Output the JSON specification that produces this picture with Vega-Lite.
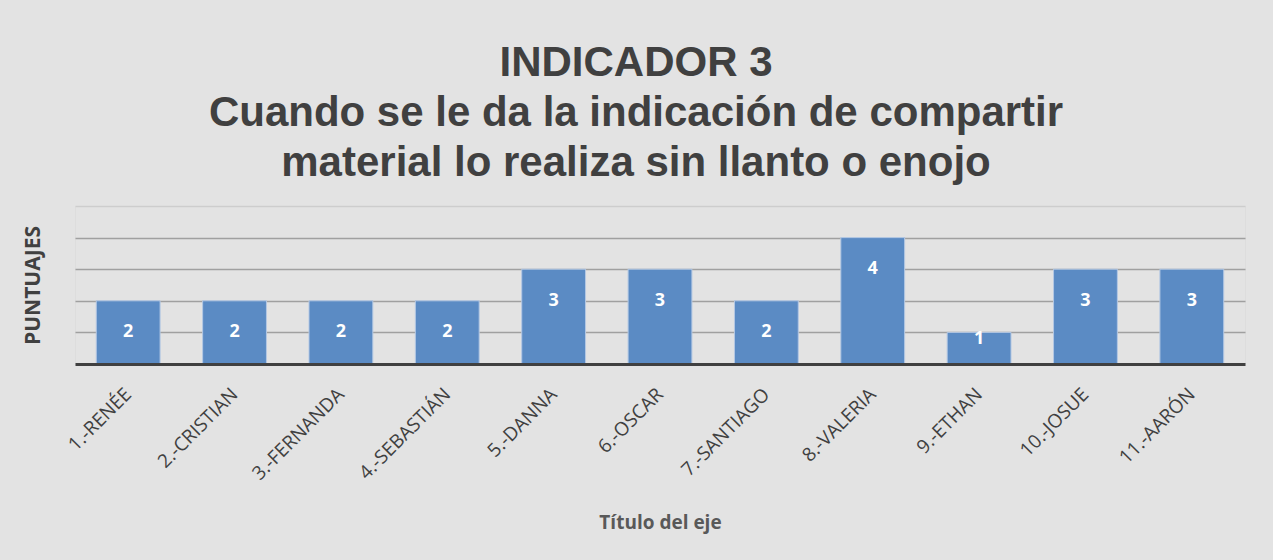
{
  "$schema": "https://vega.github.io/schema/vega-lite/v6.json",
  "autosize": "none",
  "width": 1170,
  "height": 158,
  "padding": {"left": 75, "top": 206, "right": 28, "bottom": 196},
  "background": "#e3e3e3",
  "title": {
    "text": ["INDICADOR 3", "Cuando se le da la indicación de compartir", "material lo realiza sin llanto o enojo"],
    "font": "Liberation Sans",
    "fontSize": 42,
    "fontWeight": "bold",
    "color": "#404040",
    "lineHeight": 50,
    "anchor": "middle",
    "dx": -24,
    "offset": 21
  },
  "data": {
    "values": [
      {"nombre": "1.-RENÉE", "v": 2},
      {"nombre": "2.-CRISTIAN", "v": 2},
      {"nombre": "3.-FERNANDA", "v": 2},
      {"nombre": "4.-SEBASTIÁN", "v": 2},
      {"nombre": "5.-DANNA", "v": 3},
      {"nombre": "6.-OSCAR", "v": 3},
      {"nombre": "7.-SANTIAGO", "v": 2},
      {"nombre": "8.-VALERIA", "v": 4},
      {"nombre": "9.-ETHAN", "v": 1},
      {"nombre": "10.-JOSUE", "v": 3},
      {"nombre": "11.-AARÓN", "v": 3}
    ]
  },
  "encoding": {
    "x": {
      "field": "nombre",
      "type": "nominal",
      "sort": null,
      "scale": {"paddingInner": 0.4, "paddingOuter": 0.2},
      "axis": {
        "title": "Título del eje",
        "titleFont": "Open Sans",
        "titleFontSize": 19,
        "titleFontWeight": "bold",
        "titleColor": "#595959",
        "titlePadding": 30,
        "labelAngle": -45,
        "labelAlign": "right",
        "labelBaseline": "middle",
        "labelFont": "Open Sans",
        "labelFontSize": 19,
        "labelColor": "#404040",
        "labelPadding": 27,
        "labelLimit": 300,
        "ticks": false,
        "domainColor": "#404040",
        "domainWidth": 3,
        "zindex": 1
      }
    }
  },
  "layer": [
    {
      "mark": {"type": "bar", "color": "#5b8bc4", "stroke": "#b4c8e4", "strokeWidth": 1},
      "encoding": {
        "y": {
          "field": "v",
          "type": "quantitative",
          "scale": {"domain": [0, 5]},
          "axis": {
            "title": "PUNTUAJES",
            "titleFont": "Open Sans",
            "titleFontSize": 21,
            "titleFontWeight": "bold",
            "titleColor": "#404040",
            "titlePadding": 32,
            "labels": false,
            "labelOverlap": false,
            "ticks": false,
            "domain": false,
            "values": [1, 2, 3, 4, 5],
            "grid": true,
            "gridColor": {"condition": {"test": "datum.value == 5", "value": "#cdcdcd"}, "value": "#a0a0a0"},
            "gridWidth": 1.5
          }
        }
      }
    },
    {
      "transform": [{"calculate": "datum.v > 1 ? datum.v - 1 : datum.v * 0.8", "as": "lp"}],
      "mark": {"type": "text", "color": "white", "font": "Open Sans", "fontWeight": "bold", "fontSize": 18, "baseline": "middle"},
      "encoding": {
        "y": {
          "field": "lp",
          "type": "quantitative",
          "scale": {"domain": [0, 5]},
          "axis": {
            "title": "PUNTUAJES",
            "titleFont": "Open Sans",
            "titleFontSize": 21,
            "titleFontWeight": "bold",
            "titleColor": "#404040",
            "titlePadding": 32,
            "labels": false,
            "labelOverlap": false,
            "ticks": false,
            "domain": false,
            "values": [1, 2, 3, 4, 5],
            "grid": true,
            "gridColor": {"condition": {"test": "datum.value == 5", "value": "#cdcdcd"}, "value": "#a0a0a0"},
            "gridWidth": 1.5
          }
        },
        "text": {"field": "v", "type": "quantitative"}
      }
    }
  ]
}
